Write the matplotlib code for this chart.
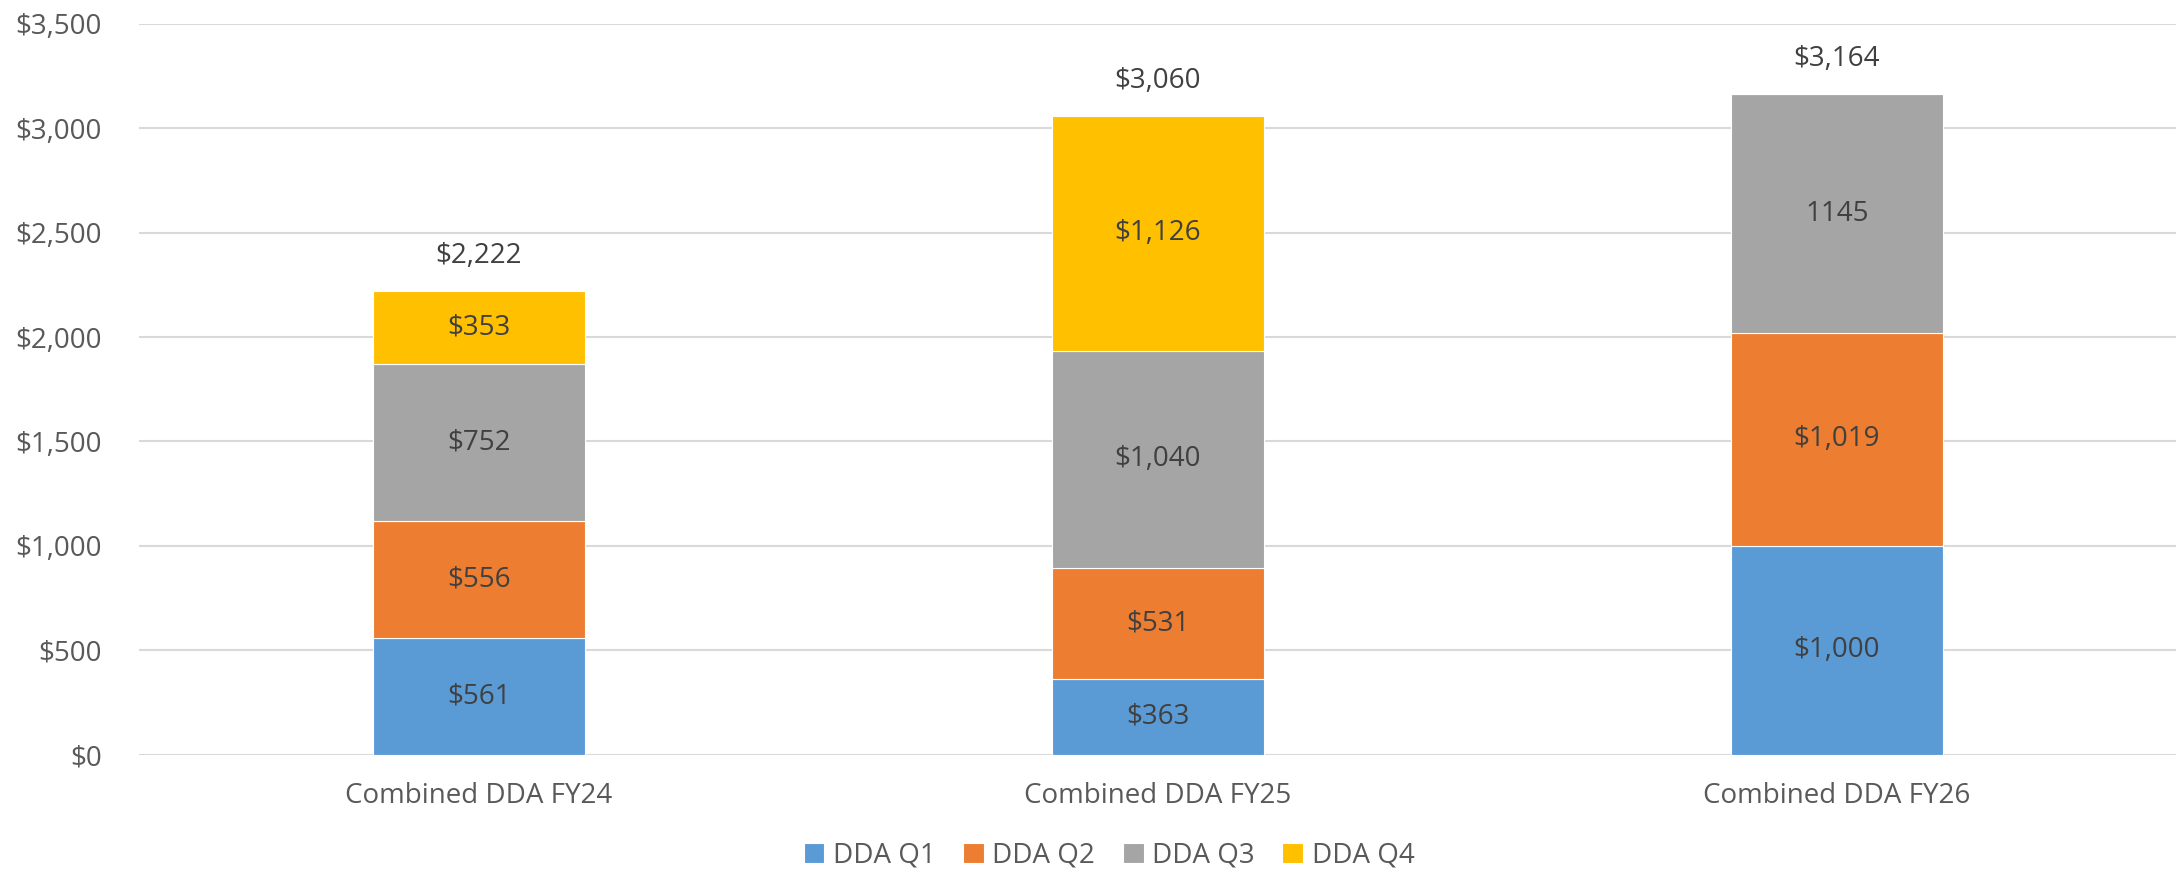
import matplotlib.pyplot as plt
import numpy as np

categories = ['Combined DDA FY24', 'Combined DDA FY25', 'Combined DDA FY26']
series = ['DDA Q1', 'DDA Q2', 'DDA Q3', 'DDA Q4']
q1 = [561, 363, 1000]
q2 = [556, 531, 1019]
q3 = [752, 1040, 1145]
q4 = [353, 1126, 0]
totals = [2222, 3060, 3164]
# FY26 Q3 label was typed in without formatting in the source
seg_labels = [
    ['$561', '$363', '$1,000'],
    ['$556', '$531', '$1,019'],
    ['$752', '$1,040', '1145'],
    ['$353', '$1,126', ''],
]
colors = ['#5B9BD5', '#ED7D31', '#A5A5A5', '#FFC000']

plt.rcParams['font.family'] = ['Open Sans', 'DejaVu Sans']
FS = 20

fig = plt.figure(figsize=(21.83, 8.72), dpi=100)
ax = fig.add_axes([0.0639, 0.1346, 0.9331, 0.838])

x = np.arange(len(categories))
width = 0.313
bottom = np.zeros(len(categories))
for vals, labs, name, c in zip([q1, q2, q3, q4], seg_labels, series, colors):
    vals = np.array(vals, dtype=float)
    bars = ax.bar(x, vals, width, bottom=bottom, color=c, label=name,
                  edgecolor='white', linewidth=0.8, zorder=2)
    for b, v, lab in zip(bars, vals, labs):
        if v > 0:
            ax.text(b.get_x() + b.get_width() / 2, b.get_y() + v / 2, lab,
                    ha='center', va='center', fontsize=FS, color='#404040', zorder=3)
    bottom += vals

for xi, top, t in zip(x, bottom, totals):
    ax.annotate(f'${t:,}', (xi, top), xytext=(0, 25), textcoords='offset points',
                ha='center', va='center', fontsize=FS, color='#404040')

ax.set_xlim(-0.5, 2.5)
ax.set_ylim(0, 3500)
ax.set_yticks(np.arange(0, 3501, 500))
ax.set_yticklabels([f'${v:,}' for v in range(0, 3501, 500)])
ax.set_xticks(x)
ax.set_xticklabels(categories)
ax.tick_params(axis='both', length=0, labelsize=FS, labelcolor='#595959')
ax.tick_params(axis='x', pad=20)
ax.tick_params(axis='y', pad=27)
ax.yaxis.grid(True, color='#D9D9D9', linewidth=1.5, zorder=0)
ax.set_axisbelow(True)
for s in ax.spines.values():
    s.set_visible(False)

fig.legend(*ax.get_legend_handles_labels(), loc='center',
           bbox_to_anchor=(0.508, 0.019), ncol=4, frameon=False,
           fontsize=FS, labelcolor='#595959', handlelength=0.75, handleheight=0.75,
           handletextpad=0.3, columnspacing=1.0)

fig.savefig('out.png', dpi=100)
